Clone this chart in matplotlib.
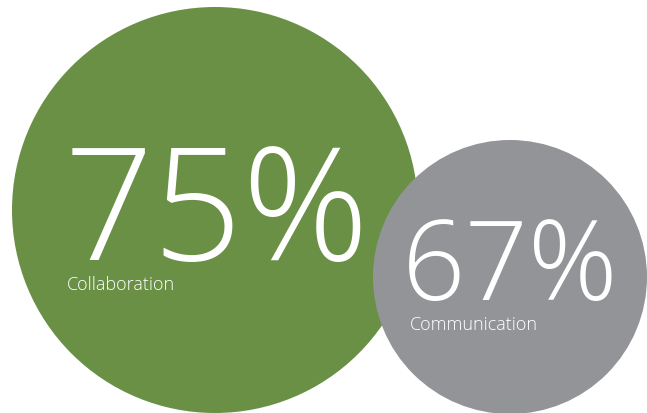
import matplotlib.pyplot as plt
from matplotlib.patches import Circle

# survey results shown as two overlapping bubbles
labels = ['Collaboration', 'Communication']
values = [75, 67]
colors = ['#6a9046', '#939498']

# bubble geometry in pixel units (centre x, centre y, radius)
centres = [(215, 210), (510, 277)]
radii = [203, 137]
# big number: left x, baseline y, font size
num_pos = [(64, 260, 113), (402, 300, 80)]
# caption: left x, baseline y, font size
cap_pos = [(67, 290, 13), (410, 330, 13)]

fig = plt.figure(figsize=(6.47, 4.13), dpi=100)
ax = fig.add_axes([0, 0, 1, 1])
ax.set_xlim(0, 647)
ax.set_ylim(413, 0)
ax.set_aspect('equal')
ax.axis('off')

for (cx, cy), r, c in zip(centres, radii, colors):
    ax.add_patch(Circle((cx, cy), r, fc=c, ec='none'))

for val, lab, (nx, ny, fs), (lx, ly, lfs) in zip(values, labels, num_pos, cap_pos):
    ax.text(nx, ny, f'{val}%', color='white', fontsize=fs, family='Open Sans',
            fontweight='light', ha='left', va='baseline')
    ax.text(lx, ly, lab, color='white', fontsize=lfs, family='Open Sans',
            fontweight='light', ha='left', va='baseline')

fig.savefig('out.png', dpi=100)
